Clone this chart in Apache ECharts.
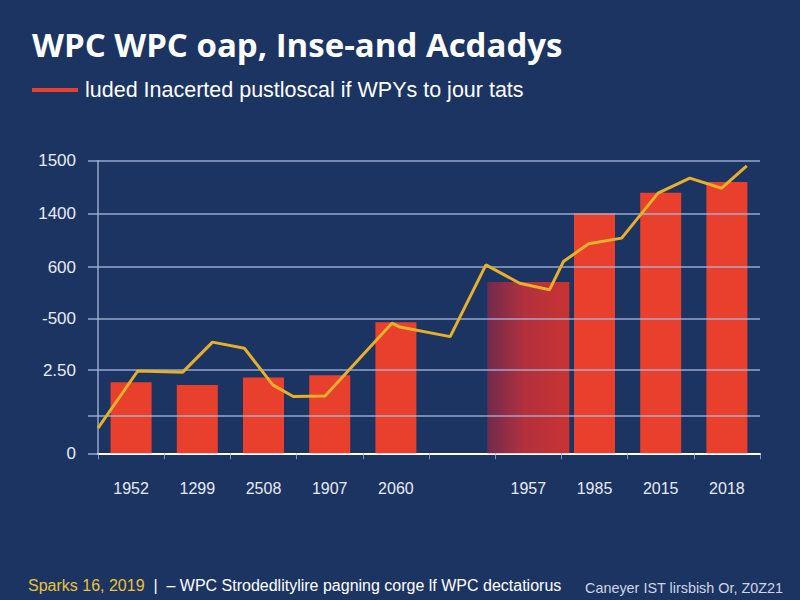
<!DOCTYPE html>
<html>
<head>
<meta charset="utf-8">
<script src="https://cdn.jsdelivr.net/npm/echarts@6/dist/echarts.min.js"></script>
<style>
html,body{margin:0;padding:0;background:#1c3461;}
#c{width:800px;height:600px;}
</style>
</head>
<body>
<div id="c"></div>
<script>
// ---- data ----
const titleText = 'WPC WPC oap, Inse-and Acdadys';
const legendText = 'luded Inacerted pustloscal if WPYs to jour tats';
const footerDate = 'Sparks 16, 2019';
const footerNote = '– WPC Strodedlitylire pagning corge lf WPC dectatiorus';
const footerRight = 'Caneyer IST lirsbish Or, Z0Z21';

const categories = ['1952', '1299', '2508', '1907', '2060', '', '1957', '1985', '2015', '2018'];
const barValues  = [364, 350, 388, 400, 672, '-', '-', 1230, 1336, 1391];
const wideValues = ['-', '-', '-', '-', '-', '-', 878, '-', '-', '-'];

const lineX = [0.0, 0.60, 1.28, 1.73, 2.21, 2.64, 2.95, 3.43, 4.44, 4.56, 5.32, 5.86, 6.37, 6.82, 7.03, 7.41, 7.91, 8.46, 8.94, 9.42, 9.80];
const lineY = [129, 422, 416, 570, 539, 351, 291, 294, 667, 647, 598, 966, 872, 838, 983, 1074, 1103, 1334, 1411, 1359, 1474];

const tickValues = [0, 195, 427, 689, 955, 1230, 1500];
const tickLabels = ['0', '', '2.50', '-500', '600', '1400', '1500'];
const gridValues = [195, 427, 689, 955, 1230, 1500];

// ---- chart ----
const chart = echarts.init(document.getElementById('c'), null, {renderer: 'svg'});
const gridColor = 'rgba(170,186,222,0.85)';
const labelMap = {};
tickValues.forEach((v, i) => { labelMap[v] = tickLabels[i]; });

chart.setOption({
  backgroundColor: '#1c3461',
  animation: false,
  title: [
    {text: titleText, left: 27, top: 23,
     textStyle: {color: '#ffffff', fontFamily: 'Open Sans', fontWeight: 'bold', fontSize: 33}},
    {text: '{a|' + footerDate + '}{b|  |  ' + footerNote + '}', left: 23, top: 572,
     textStyle: {fontWeight: 'normal', rich: {
       a: {color: '#e9c23e', fontFamily: 'Liberation Sans', fontSize: 16, fontWeight: 'normal'},
       b: {color: '#ffffff', fontFamily: 'Liberation Sans', fontSize: 16, fontWeight: 'normal'}
     }}},
    {text: footerRight, left: 580, top: 576,
     textStyle: {color: '#cdd6e8', fontFamily: 'Liberation Sans', fontSize: 14.4, fontWeight: 'normal'}}
  ],
  legend: {
    left: 27, top: 74,
    icon: 'rect', itemWidth: 46, itemHeight: 4,
    data: [legendText],
    textStyle: {color: '#ffffff', fontFamily: 'Liberation Sans', fontSize: 21.5, padding: [0, 0, 0, 2]}
  },
  grid: {left: 98, right: 40, top: 160.7, bottom: 146.7, containLabel: false, outerBoundsMode: 'none'},
  xAxis: [
    {type: 'category', data: categories, boundaryGap: true,
     axisLine: {show: true, lineStyle: {color: '#ffffff', width: 2}},
     axisTick: {show: true, length: 6, lineStyle: {color: 'rgba(170,186,222,0.7)'}},
     axisLabel: {color: '#e6ebf5', fontFamily: 'Liberation Sans', fontSize: 16, margin: 27, interval: 0},
     splitLine: {show: false}},
    {type: 'category', data: categories, show: false, boundaryGap: true},
    {type: 'value', min: 0, max: 10, show: false}
  ],
  yAxis: {
    type: 'value', min: 0, max: 1500,
    axisLine: {show: true, lineStyle: {color: gridColor, width: 1.5}},
    axisTick: {show: true, length: 10, customValues: tickValues, lineStyle: {color: gridColor, width: 1.5}},
    axisLabel: {show: true, customValues: tickValues, color: '#e6ebf5', fontFamily: 'Liberation Sans', fontSize: 17, margin: 22,
      formatter: v => (labelMap[v] !== undefined ? labelMap[v] : '')},
    splitLine: {show: false}
  },
  series: [
    {name: legendText, type: 'bar', xAxisIndex: 0, data: barValues, barWidth: 41,
     itemStyle: {color: '#e8402c'},
     markLine: {silent: true, symbol: 'none', label: {show: false},
       lineStyle: {color: gridColor, width: 1.5, type: 'solid'},
       data: gridValues.map(v => ({yAxis: v}))},
     z: 2},
    {name: 'wide', type: 'bar', xAxisIndex: 1, data: wideValues, barWidth: 82,
     itemStyle: {color: new echarts.graphic.LinearGradient(0, 0, 1, 0, [
       {offset: 0, color: '#702b4d'}, {offset: 0.45, color: '#b2313d'}, {offset: 1, color: '#c93331'}])},
     z: 2},
    {name: 'trend', type: 'line', xAxisIndex: 2, data: lineX.map((x, i) => [x, lineY[i]]),
     showSymbol: false, symbol: 'none',
     lineStyle: {color: '#e6b02c', width: 3}, z: 5}
  ]
});
</script>
</body>
</html>
